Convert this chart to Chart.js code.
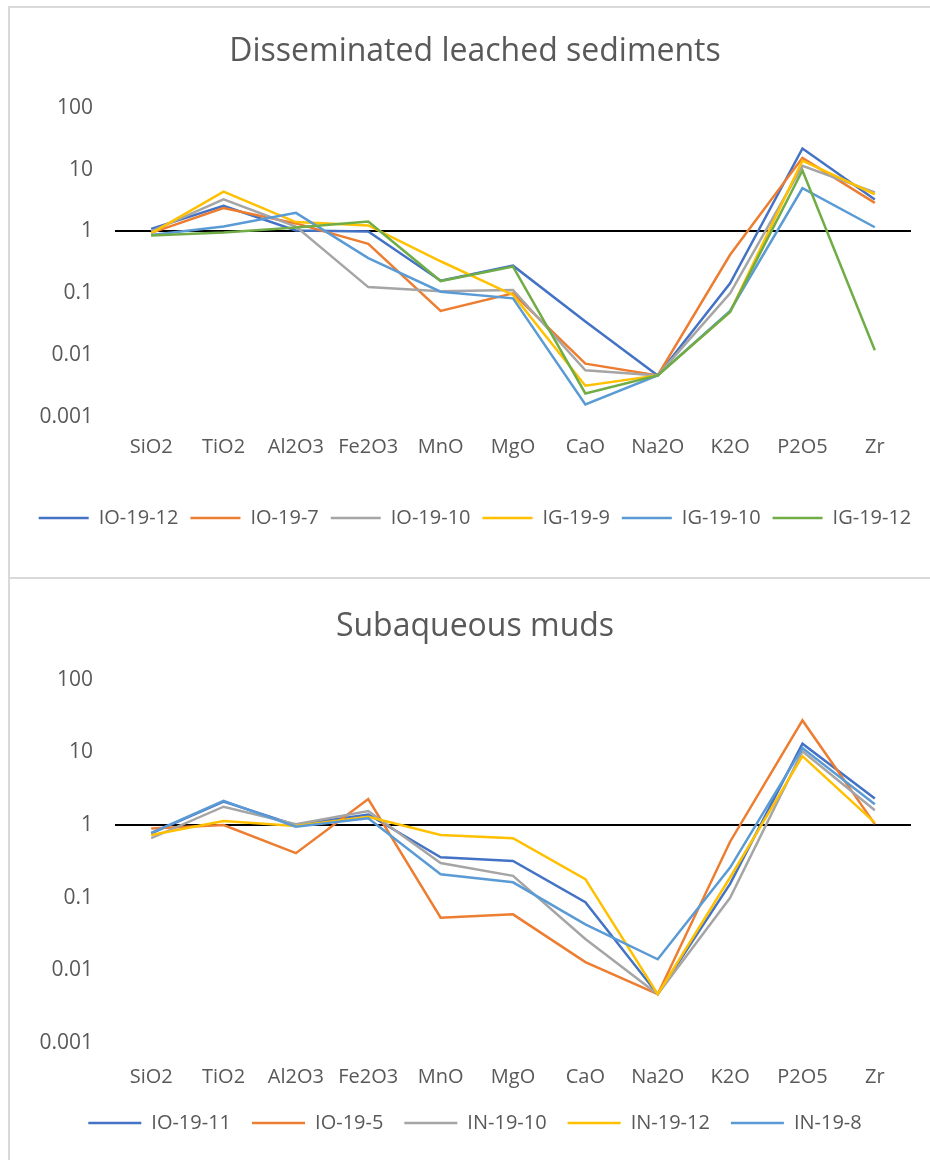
<!DOCTYPE html>
<html>
<head>
<meta charset="utf-8">
<script src="https://cdn.jsdelivr.net/npm/chart.js@4.4.0/dist/chart.umd.min.js"></script>
<style>
  body { margin: 0; background: #fff; overflow: hidden; }
  .box { position: absolute; left: 8px; width: 940px; border: 2px solid #d9d9d9; background: #fff; }
  .box canvas { position: absolute; left: 0; top: 0; }
</style>
</head>
<body>
<div class="box" style="top:6px;height:569px;"><canvas id="leachedChart" width="920" height="569"></canvas></div>
<div class="box" style="top:577px;height:600px;"><canvas id="mudsChart" width="920" height="581"></canvas></div>
<script>
// oxides / elements on the x axis
const elements = ['SiO2', 'TiO2', 'Al2O3', 'Fe2O3', 'MnO', 'MgO', 'CaO', 'Na2O', 'K2O', 'P2O5', 'Zr'];
const yTicks = [0.001, 0.01, 0.1, 1, 10, 100];
const colors = ['#4472C4', '#ED7D31', '#A5A5A5', '#FFC000', '#5B9BD5', '#70AD47'];

// Disseminated leached sediments
const leachedNames = ['IO-19-12', 'IO-19-7', 'IO-19-10', 'IG-19-9', 'IG-19-10', 'IG-19-12'];
const io1912 = [1.1, 2.6, 1.04, 1.0, 0.16, 0.28, 0.035, 0.0047, 0.145, 22, 3.3];
const io197 = [0.95, 2.4, 1.35, 0.63, 0.052, 0.1, 0.0073, 0.0047, 0.42, 15.5, 2.9];
const io1910 = [1.0, 3.3, 1.2, 0.126, 0.108, 0.113, 0.0057, 0.0047, 0.1, 11.5, 4.3];
const ig199 = [0.93, 4.4, 1.42, 1.25, 0.33, 0.094, 0.0032, 0.0047, 0.05, 14, 4.0];
const ig1910 = [0.88, 1.2, 2.0, 0.37, 0.106, 0.083, 0.0016, 0.0047, 0.052, 5.0, 1.17];
const ig1912 = [0.86, 0.96, 1.16, 1.45, 0.158, 0.27, 0.0024, 0.0047, 0.05, 9.7, 0.012];

// Subaqueous muds
const mudNames = ['IO-19-11', 'IO-19-5', 'IN-19-10', 'IN-19-12', 'IN-19-8'];
const io1911 = [0.77, 2.1, 1.0, 1.4, 0.36, 0.32, 0.087, 0.0047, 0.155, 13.2, 2.33];
const io195 = [0.9, 1.0, 0.41, 2.28, 0.053, 0.059, 0.013, 0.0047, 0.59, 27.6, 1.03];
const in1910 = [0.66, 1.79, 1.03, 1.56, 0.3, 0.2, 0.027, 0.0047, 0.1, 10.4, 1.6];
const in1912 = [0.73, 1.14, 0.97, 1.3, 0.73, 0.66, 0.18, 0.0047, 0.19, 8.9, 1.08];
const in198 = [0.78, 2.15, 0.95, 1.24, 0.21, 0.163, 0.043, 0.0142, 0.26, 11.5, 1.93];

const textColor = '#595959';
const font = 'Open Sans';

function makeChart(id, title, names, series, lay) {
  const n = series.length;
  const datasets = series.map((vals, i) => ({
    label: names[i],
    data: vals,
    borderColor: colors[i],
    backgroundColor: colors[i],
    borderWidth: 2.5,
    pointRadius: 0,
    tension: 0,
    order: n - i   // later series drawn on top, like Excel
  }));
  return new Chart(document.getElementById(id), {
    type: 'line',
    data: { labels: elements, datasets: datasets },
    options: {
      responsive: false,
      animation: false,
      layout: { padding: { left: 10, right: 0, top: 0, bottom: lay.bottom } },
      plugins: {
        title: {
          display: true, text: title, color: textColor,
          font: { family: font, size: 32, weight: 'normal' },
          padding: { top: lay.titleTop, bottom: lay.titleBottom }
        },
        legend: {
          position: 'bottom',
          labels: {
            color: textColor, font: { family: font, size: 20 },
            usePointStyle: true, pointStyle: 'line', pointStyleWidth: lay.lineLen, padding: lay.legendPad,
            sort: (a, b) => a.datasetIndex - b.datasetIndex
          }
        },
        tooltip: { enabled: false }
      },
      scales: {
        x: {
          offset: true,
          grid: { display: false, drawTicks: false },
          border: { display: false },
          ticks: { color: textColor, font: { family: font, size: 20 }, padding: lay.xPad, maxRotation: 0 },
          afterFit: (s) => { s.height = lay.xHeight; }
        },
        y: {
          type: 'logarithmic', min: 0.001, max: 100,
          afterBuildTicks: (s) => { s.ticks = yTicks.map(v => ({ value: v })); },
          afterFit: (s) => { s.width = 95; },
          grid: {
            drawTicks: false,
            color: (c) => c.tick && c.tick.value === 1 ? '#000' : 'rgba(0,0,0,0)',
            lineWidth: 2
          },
          border: { display: false },
          ticks: { color: textColor, font: { family: font, size: 21 }, padding: 22,
                   callback: (v) => String(v) }
        },
        // empty right axis, only keeps the plot edge where Excel has it
        yRight: {
          position: 'right',
          grid: { display: false, drawTicks: false },
          border: { display: false },
          ticks: { display: false },
          afterFit: (s) => { s.width = 19; }
        }
      }
    }
  });
}

makeChart('leachedChart', 'Disseminated leached sediments', leachedNames,
  [io1912, io197, io1910, ig199, ig1910, ig1912],
  { titleTop: 25, titleBottom: 36.4, xHeight: 79, xPad: 18, lineLen: 50, legendPad: 12, bottom: 39 });

makeChart('mudsChart', 'Subaqueous muds', mudNames,
  [io1911, io195, in1910, in1912, in198],
  { titleTop: 29, titleBottom: 33.4, xHeight: 49, xPad: 22, lineLen: 53, legendPad: 21, bottom: 17 });
</script>
</body>
</html>
